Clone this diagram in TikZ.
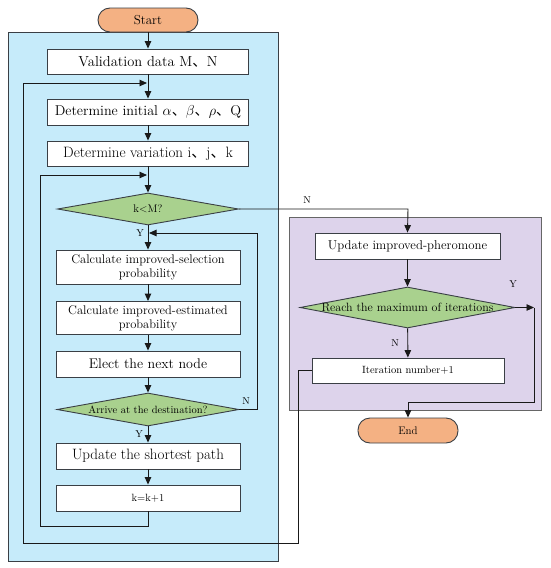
\documentclass[tikz,border=0pt]{standalone}
\usepackage{fontspec}
\newfontfamily\cjk{Noto Sans CJK SC}
\usetikzlibrary{shapes.geometric,arrows.meta}
\definecolor{bluebg}{HTML}{C6EBFA}
\definecolor{purplebg}{HTML}{DDD3EB}
\definecolor{greenfill}{HTML}{A9D18E}
\definecolor{orangefill}{HTML}{F4B183}
\definecolor{edge}{HTML}{3A3F45}
\newcommand{\dun}{{\cjk 、}}
\begin{document}
\begin{tikzpicture}[x=1pt,y=-1pt,
  box/.style={draw=edge, fill=white, line width=0.9pt, inner sep=0pt, align=center, font=\fontsize{14}{16}\selectfont},
  sbox/.style={box, font=\fontsize{12.5}{14}\selectfont},
  pill/.style={draw=edge, fill=orangefill, line width=0.9pt, rounded corners=12pt, minimum width=100pt, inner sep=0pt},
  dia/.style={diamond, draw=edge, fill=greenfill, line width=0.9pt, inner sep=0pt},
  lbl/.style={inner sep=0pt, font=\fontsize{10}{12}\selectfont},
  ln/.style={line width=0.9pt, draw=black!90},
  arr/.style={ln, -{Triangle[length=7.5pt,width=6.5pt]}}]
\useasboundingbox (0,0) rectangle (550,568);
% panels
\draw[fill=bluebg, draw=edge, line width=0.9pt] (8,32) rectangle (278,561);
\draw[fill=purplebg, draw=black!60, line width=0.9pt] (289,217) rectangle (541,410);
% left column
\node[pill, minimum height=24pt, font=\fontsize{13}{15}\selectfont] (start) at (148,20) {Start};
\node[box, font=\fontsize{14.5}{16}\selectfont, minimum width=201pt, minimum height=25pt] (valid) at (148,61.5) {Validation data M\dun N};
\node[box, font=\fontsize{14.2}{16}\selectfont, minimum width=201pt, minimum height=26pt] (init) at (148,112) {Determine initial $\alpha$\dun$\beta$\dun$\rho$\dun Q};
\node[box, font=\fontsize{15}{17}\selectfont, minimum width=201pt, minimum height=25pt] (vari) at (148,153.5) {Determine variation i\dun j\dun k};
\node[dia, minimum width=181pt, minimum height=32pt] (km) at (148,209) {};
\node[lbl, font=\fontsize{11}{13}\selectfont] (kmt) at (km) {k<M?};
\node[sbox, minimum width=184pt, minimum height=34pt] (calc1) at (148,267) {Calculate improved-selection\\probability};
\node[sbox, minimum width=184pt, minimum height=33pt] (calc2) at (148,318) {Calculate improved-estimated\\probability};
\node[box, minimum width=184pt, minimum height=26pt] (elect) at (148,364) {Elect the next node};
\node[dia, minimum width=182pt, minimum height=33pt] (arrive) at (148,409.5) {};
\node[lbl, font=\fontsize{10.5}{12}\selectfont] (arrivet) at (arrive) {Arrive at the destination?};
\node[box, font=\fontsize{15}{17}\selectfont, minimum width=184pt, minimum height=26pt] (upd) at (148,456) {Update the shortest path};
\node[sbox, font=\fontsize{10.5}{12}\selectfont, minimum width=184pt, minimum height=26pt] (kk) at (148,498) {k=k+1};
% right column
\node[sbox, font=\fontsize{12.8}{14}\selectfont, minimum width=185pt, minimum height=26pt] (updph) at (407.5,246) {Update improved-pheromone};
\node[dia, minimum width=215pt, minimum height=41pt] (reach) at (407.5,307.5) {};
\node[lbl, font=\fontsize{12}{14}\selectfont] (reacht) at (reach) {Reach the maximum of iterations};
\node[sbox, font=\fontsize{10.5}{12}\selectfont, minimum width=192pt, minimum height=25pt] (iter) at (408,370.5) {Iteration number+1};
\node[pill, minimum height=25pt, font=\fontsize{11}{13}\selectfont] (end) at (408,430.5) {End};
% junction coordinates
\coordinate (j1) at (148,83);
\coordinate (j2) at (148,175);
\coordinate (j3) at (148,233);
% main flow
\draw[arr] (start) -- (valid);
\draw[arr] (valid) -- (init);
\draw[arr] (init) -- (vari);
\draw[arr] (vari) -- (km);
\draw[arr] (km) -- (calc1);
\draw[arr] (calc1) -- (calc2);
\draw[arr] (calc2) -- (elect);
\draw[arr] (elect) -- (arrive);
\draw[arr] (arrive) -- (upd);
\draw[arr] (upd) -- (kk);
% inner loops
\draw[arr] (kk.south) -- (148,526) -- (40,526) -- (40,175) -- ([xshift=-1pt]j2);
\draw[arr] (arrive.east) -- (257,409.5) -- (257,233) -- ([xshift=1pt]j3);
\draw[arr] (iter.west) -- (298,370.5) -- (298,543) -- (23,543) -- (23,83) -- ([xshift=-1pt]j1);
% right side
\draw[arr] (km.east) -- (408,209) -- (updph.north);
\draw[arr] (updph) -- (reach);
\draw[arr] (reach) -- (iter);
\coordinate (yc) at (534,307.5);
\draw[arr] (reach.east) -- (yc);
\draw[arr] (yc) -- (534,402) -- (408,402) -- (end.north);
% labels
\node[lbl] (lN1) at (307,200) {N};
\node[lbl] (lY1) at (140,233) {Y};
\node[lbl] (lN2) at (246,401) {N};
\node[lbl] (lY2) at (139,434) {Y};
\node[lbl] (lY3) at (513,284) {Y};
\node[lbl] (lN3) at (395,343) {N};
\end{tikzpicture}
\end{document}
